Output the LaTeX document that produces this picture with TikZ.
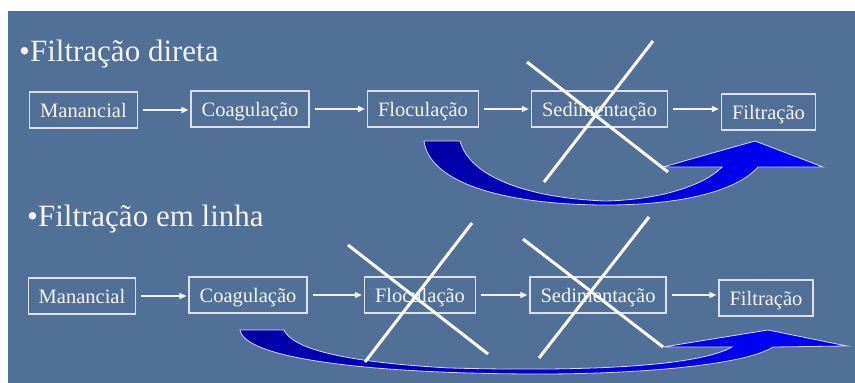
\documentclass[tikz,border=0pt]{standalone}
\usepackage{fontspec}
\setmainfont{Liberation Serif}
\usetikzlibrary{arrows.meta}
\definecolor{slate}{RGB}{80,112,151}
\definecolor{chalk}{RGB}{243,243,243}
\definecolor{boxline}{RGB}{218,224,234}
\definecolor{deepblue}{RGB}{0,0,165}
\definecolor{brightblue}{RGB}{0,0,255}
\definecolor{rimblue}{RGB}{210,216,245}
\tikzset{
  stage/.style={draw=boxline, line width=1.3pt, text=chalk, inner xsep=10.5pt,
    inner ysep=0pt, text height=19pt, text depth=5pt, minimum height=36pt,
    font=\fontsize{20.5}{22}\selectfont},
  flow/.style={draw=chalk, line width=1.4pt, shorten <=5pt, shorten >=2pt,
    -{Triangle[length=7pt,width=6pt]}},
  heading/.style={anchor=base west, text=chalk, inner sep=0pt,
    font=\fontsize{31}{34}\selectfont},
  strike/.style={draw=white, line width=3pt},
  bypass/.style={left color=deepblue, right color=brightblue, draw=rimblue, line width=0.8pt}
}
\begin{document}
\begin{tikzpicture}[x=1pt, y=-1pt]
  \useasboundingbox (0,0) rectangle (855,383);
  \fill[slate] (8,11) rectangle (855,383);

  % Headings
  \node[heading] (h1) at (19,61) {•Filtração direta};
  \node[heading] (h2) at (27,226) {•Filtração em linha};

  % Direct filtration line
  \node[stage] (m1) at (83.5,110) {Manancial};
  \node[stage] (c1) at (250,109) {Coagulação};
  \node[stage] (f1) at (423,109) {Floculação};
  \node[stage] (s1) at (599.5,109) {Sedimentação};
  \node[stage] (t1) at (768.5,112) {Filtração};
  \draw[flow] (m1.east) -- (c1.west |- m1.east);
  \draw[flow] (c1.east) -- (f1.west |- c1.east);
  \draw[flow] (f1.east) -- (s1.west |- f1.east);
  \draw[flow] (s1.east) -- (t1.west |- s1.east);

  % In-line filtration line
  \node[stage] (m2) at (82,296) {Manancial};
  \node[stage] (c2) at (248,295) {Coagulação};
  \node[stage] (f2) at (420,295) {Floculação};
  \node[stage] (s2) at (598,295) {Sedimentação};
  \node[stage] (t2) at (766,298) {Filtração};
  \draw[flow] (m2.east) -- (c2.west |- m2.east);
  \draw[flow] (c2.east) -- (f2.west |- c2.east);
  \draw[flow] (f2.east) -- (s2.west |- f2.east);
  \draw[flow] (s2.east) -- (t2.west |- s2.east);

  % Bypass arrow skipping sedimentation
  \path[bypass] (424,141) -- (460,141)
    .. controls (470,178) and (530,198) .. (605,201)
    .. controls (660,200) and (705,185) .. (722,167)
    -- (663,167) -- (755,141) -- (823,167) -- (758,167)
    .. controls (735,193) and (675,205) .. (607,205)
    .. controls (510,205) and (430,185) .. (424,141) -- cycle;

  % Bypass arrow skipping flocculation and sedimentation
  \path[bypass] (240,330) -- (284,330)
    .. controls (292,348) and (340,362) .. (450,368)
    .. controls (600,372) and (700,365) .. (732,347)
    -- (663,347) -- (768,330) -- (847,346) -- (773,347)
    .. controls (745,365) and (640,374) .. (540,374)
    .. controls (380,374) and (245,360) .. (240,330) -- cycle;

  % Crossed-out stages
  \draw[strike] (527,62) -- (668,172);
  \draw[strike] (653,41) -- (544,182);
  \draw[strike] (348,245) -- (488,354);
  \draw[strike] (472,223) -- (365,362);
  \draw[strike] (523,239) -- (663,347);
  \draw[strike] (649,217) -- (539,358);
\end{tikzpicture}
\end{document}
